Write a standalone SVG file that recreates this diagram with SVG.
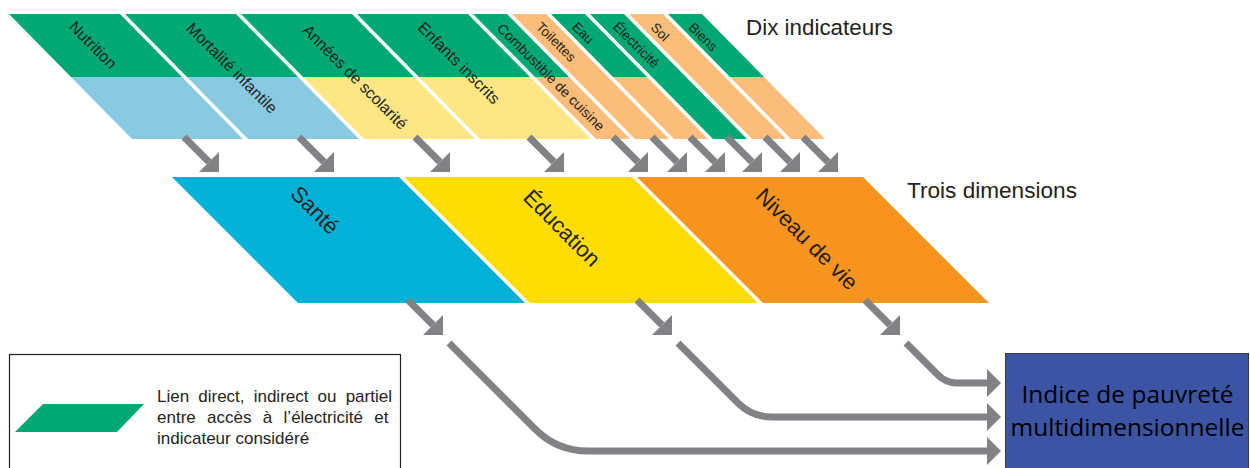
<svg xmlns="http://www.w3.org/2000/svg" xmlns:xlink="http://www.w3.org/1999/xlink" width="1250" height="468" viewBox="0 0 1250 468">
<style>
.g{fill:#00a874}.o{fill:#fbbd79}.lb{fill:#89cae3}.ly{fill:#fee685}
.t{font-family:"Liberation Sans",Arial,sans-serif;fill:#231f20}
.lab{font-family:"Liberation Sans",Arial,sans-serif;fill:#231f20;text-anchor:middle;dominant-baseline:central}
.con{fill:none;stroke:#808285;stroke-width:7}
.hd{fill:#808285}
</style>
<defs>
<g id="sa"><line x1="-35" y1="-35" x2="-10" y2="-10" stroke="#808285" stroke-width="7"/><polygon points="0,-20 0,0 -20,0" fill="#808285"/></g>
<polygon id="ah" points="-14,-14 0,0 -14,14" fill="#808285"/>
</defs>
<rect width="1250" height="468" fill="#fff"/>
<g id="ind-nutrition"><polygon class="g" points="9,14 120,14 182,77 71,77"/><polygon class="lb" points="71,77 182,77 243,139 132,139"/><text class="lab" font-size="16" transform="translate(93,45) rotate(45)">Nutrition</text></g>
<g id="ind-mortalite"><polygon class="g" points="125,14 236,14 298,77 187,77"/><polygon class="lb" points="187,77 298,77 359,139 248,139"/><text class="lab" font-size="16" transform="translate(232,68) rotate(45)">Mortalité infantile</text></g>
<g id="ind-annees"><polygon class="g" points="241,14 352,14 414,77 303,77"/><polygon class="ly" points="303,77 414,77 475,139 364,139"/><text class="lab" font-size="16" transform="translate(355,77) rotate(45)">Années de scolarité</text></g>
<g id="ind-enfants"><polygon class="g" points="357,14 468,14 530,77 419,77"/><polygon class="ly" points="419,77 530,77 591,139 480,139"/><text class="lab" font-size="16" transform="translate(459,63) rotate(45)">Enfants inscrits</text></g>
<g id="ind-combustible"><polygon class="g" points="473,14 507,14 569,77 535,77"/><polygon class="o" points="535,77 569,77 630,139 596,139"/><text class="lab" font-size="14" transform="translate(551,77) rotate(45)">Combustible de cuisine</text></g>
<g id="ind-toilettes"><polygon class="o" points="512,14 546,14 608,77 574,77"/><polygon class="o" points="574,77 608,77 669,139 635,139"/><text class="lab" font-size="13.5" transform="translate(556,42) rotate(45)">Toilettes</text></g>
<g id="ind-eau"><polygon class="g" points="551,14 585,14 647,77 613,77"/><polygon class="o" points="613,77 647,77 708,139 674,139"/><text class="lab" font-size="13.5" transform="translate(583,33) rotate(45)">Eau</text></g>
<g id="ind-electricite"><polygon class="g" points="590,14 624,14 686,77 652,77"/><polygon class="g" points="652,77 686,77 747,139 713,139"/><text class="lab" font-size="13.5" transform="translate(636,45) rotate(45)">Électricité</text></g>
<g id="ind-sol"><polygon class="o" points="629,14 663,14 725,77 691,77"/><polygon class="o" points="691,77 725,77 786,139 752,139"/><text class="lab" font-size="13.5" transform="translate(660,32) rotate(45)">Sol</text></g>
<g id="ind-biens"><polygon class="g" points="668,14 702,14 764,77 730,77"/><polygon class="o" points="730,77 764,77 825,139 791,139"/><text class="lab" font-size="13.5" transform="translate(703,37) rotate(45)">Biens</text></g>
<g id="title-ind"><text class="t" x="746" y="35" font-size="22.4">Dix indicateurs</text></g>
<g id="dim-sante"><polygon fill="#00b2d6" points="172,177 399,177 525,303 298,303"/><text class="lab" font-size="22" transform="translate(315,210) rotate(45)">Santé</text></g>
<g id="dim-education"><polygon fill="#ffdd00" points="404,177 632,177 758,303 530,303"/><text class="lab" font-size="22" transform="translate(562,228) rotate(45)">Éducation</text></g>
<g id="dim-niveau"><polygon fill="#f7941e" points="637,177 863,177 989,303 763,303"/><text class="lab" font-size="22" transform="translate(807,239) rotate(45)">Niveau de vie</text></g>
<g id="title-dim"><text class="t" x="907" y="198" font-size="22.6">Trois dimensions</text></g>
<g id="connectors">
<use xlink:href="#sa" x="219" y="172"/>
<use xlink:href="#sa" x="334" y="172"/>
<use xlink:href="#sa" x="450" y="172"/>
<use xlink:href="#sa" x="564" y="172"/>
<use xlink:href="#sa" x="648" y="172"/>
<use xlink:href="#sa" x="687" y="172"/>
<use xlink:href="#sa" x="725" y="172"/>
<use xlink:href="#sa" x="762" y="172"/>
<use xlink:href="#sa" x="800" y="172"/>
<use xlink:href="#sa" x="838" y="172"/>
<use xlink:href="#sa" x="443" y="335"/>
<use xlink:href="#sa" x="672" y="335"/>
<use xlink:href="#sa" x="900" y="335"/>
<path class="con" d="M449,343 L535,429 Q557,451 588,451 L990,451"/>
<path class="con" d="M678,343 L738,403 Q752,417 772,417 L990,417"/>
<path class="con" d="M906,343 L938,375 Q946,383 957,383 L990,383"/>
<use xlink:href="#ah" x="1001" y="383"/>
<use xlink:href="#ah" x="1001" y="417"/>
<use xlink:href="#ah" x="1001" y="451"/>
</g>
<g id="legend">
<rect x="9.5" y="354.5" width="391" height="130" fill="#fff" stroke="#231f20" stroke-width="1.2"/>
<polygon class="g" points="43,404 144,404 117,432 15,432"/>
<text class="t" font-size="17" x="157" y="402" word-spacing="4.4">Lien direct, indirect ou partiel</text>
<text class="t" font-size="17" x="157" y="423" word-spacing="6.6">entre accès à l’électricité et</text>
<text class="t" font-size="17" x="157" y="444">indicateur considéré</text>
</g>
<g id="mpi">
<rect x="1005.5" y="353.5" width="243" height="130" fill="#3b54a4" stroke="#3a3a3a" stroke-width="1"/>
<text x="1127.5" y="403" font-family="'Open Sans','Noto Sans',sans-serif" font-size="24.5" fill="#000" text-anchor="middle">Indice de pauvreté</text>
<text x="1127.5" y="436" font-family="'Open Sans','Noto Sans',sans-serif" font-size="24.5" fill="#000" text-anchor="middle">multidimensionnelle</text>
</g>
</svg>
